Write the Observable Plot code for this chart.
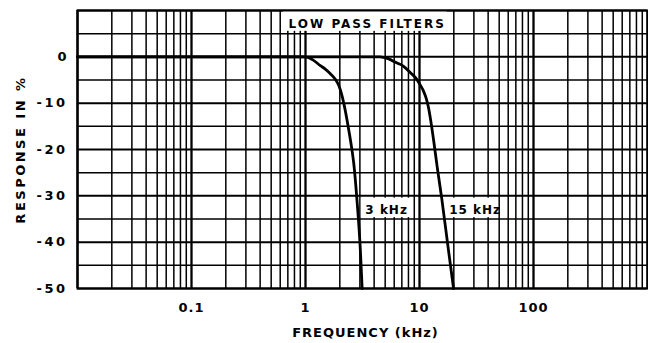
<!DOCTYPE html>
<html>
<head>
<meta charset="utf-8">
<script src="https://cdn.jsdelivr.net/npm/d3@7"></script>
<script src="https://cdn.jsdelivr.net/npm/@observablehq/plot@0.6"></script>
<style>
  html, body { margin: 0; padding: 0; background: #fff; }
  #chart svg { display: block; }
</style>
</head>
<body>
<div id="chart"></div>
<script>
// Low pass filter response curves (frequency in kHz, response in %)
const freq3k = [0.01, 0.5, 1.0, 1.15, 1.35, 1.5, 1.66, 1.82, 1.96, 2.07, 2.17, 2.4, 2.56, 2.65, 2.83, 3.03, 3.14];
const resp3k = [0, 0, 0, -0.6, -1.9, -2.7, -3.7, -4.8, -6.2, -8, -10.1, -15.9, -20.2, -23, -31, -41.8, -50];

const freq15k = [0.01, 3, 4.5, 5.3, 6.3, 7.2, 8.3, 9.3, 10, 10.8, 11.4, 12.0, 12.5, 13.3, 14.3, 15.7, 17.9, 19.9];
const resp15k = [0, 0, 0, -0.4, -1.3, -2.0, -3.4, -4.6, -5.8, -7.3, -8.8, -11, -13.5, -18, -23.8, -30.7, -41.5, -50];

const filterNames = ["3 kHz", "15 kHz"];

// Axis ticks
const xTickValues = [0.1, 1, 10, 100];
const xTickLabels = ["0.1", "1", "10", "100"];
const yTickValues = [0, -10, -20, -30, -40, -50];
const yTickLabels = ["0", "-10", "-20", "-30", "-40", "-50"];

const xDomain = [0.01, 1000];
const yDomain = [-50, 10];

const curves = [
  ...freq3k.map((f, i) => ({filter: filterNames[0], f, r: resp3k[i]})),
  ...freq15k.map((f, i) => ({filter: filterNames[1], f, r: resp15k[i]}))
];

const xLabelOf = new Map(xTickValues.map((v, i) => [v, xTickLabels[i]]));
const yLabelOf = new Map(yTickValues.map((v, i) => [v, yTickLabels[i]]));

// Log-paper grid: every 1..9 multiple in each decade, every 5 % vertically
const xGrid = d3.scaleLog().domain(xDomain).ticks(60);
const yGrid = d3.range(yDomain[0], yDomain[1] + 1, 5);
const isDecade = (v) => Math.abs(Math.log10(v) - Math.round(Math.log10(v))) < 1e-9;

const font = "DejaVu Sans, Liberation Sans, sans-serif";

// Text placement for the annotations (white boxes knock out the grid)
const notes = [
  {text: "LOW PASS FILTERS", x: 0.71, y: 7, x1: 0.64, x2: 17.5, y1: 5.5, y2: 10},
  {text: filterNames[0], x: 3.35, y: -33, x1: 3.09, x2: 8.6, y1: -30.5, y2: -34.7},
  {text: filterNames[1], x: 18.2, y: -33, x1: 17.5, x2: 48.5, y1: -30.5, y2: -34.7}
];

const chart = Plot.plot({
  width: 648,
  height: 343,
  marginLeft: 77,
  marginRight: 1,
  marginTop: 10,
  marginBottom: 55,
  style: {fontFamily: font, fontWeight: "bold", color: "black", background: "white"},
  x: {type: "log", domain: xDomain, axis: null},
  y: {domain: yDomain, axis: null},
  marks: [
    Plot.ruleX(xGrid.filter((v) => !isDecade(v)), {stroke: "black", strokeWidth: 1.5}),
    Plot.ruleX(xGrid.filter(isDecade), {stroke: "black", strokeWidth: 2.3}),
    Plot.ruleY(yGrid.filter((v) => v % 10 !== 0), {stroke: "black", strokeWidth: 1.5}),
    Plot.ruleY(yGrid.filter((v) => v % 10 === 0), {stroke: "black", strokeWidth: 2}),
    Plot.rect(notes, {x1: "x1", x2: "x2", y1: "y1", y2: "y2", fill: "white"}),
    Plot.line(curves, {x: "f", y: "r", z: "filter", curve: "monotone-x", stroke: "black", strokeWidth: 2.8}),
    Plot.text(notes, {
      x: "x", y: "y", text: "text", textAnchor: "start", lineAnchor: "middle",
      fontSize: 12, fontWeight: "bold", fill: "black"
    }),
    Plot.frame({stroke: "black", strokeWidth: 2}),
    Plot.text(xTickValues, {
      x: (d) => d, frameAnchor: "bottom", dy: 19, text: (d) => xLabelOf.get(d),
      lineAnchor: "middle", fontSize: 13, fontWeight: "bold"
    }),
    Plot.text(yTickValues, {
      y: (d) => d, frameAnchor: "left", dx: -10, text: (d) => yLabelOf.get(d),
      textAnchor: "end", lineAnchor: "middle", fontSize: 13, fontWeight: "bold"
    }),
    Plot.text(["FREQUENCY (kHz)"], {frameAnchor: "bottom", dy: 44, dx: 3, textAnchor: "middle", lineAnchor: "middle", fontSize: 13, fontWeight: "bold"}),
    Plot.text(["RESPONSE IN %"], {frameAnchor: "left", dx: -57, rotate: -90, textAnchor: "middle", lineAnchor: "middle", fontSize: 13, fontWeight: "bold"})
  ]
});

// Wide, typewriter-like letter spacing on all lettering
const svg = d3.select(chart);
svg.selectAll("text").style("letter-spacing", "1px");
svg.selectAll("text").filter(function () { return this.textContent === "LOW PASS FILTERS"; })
  .style("letter-spacing", "2px");
svg.selectAll("text").filter(function () { return this.textContent === "RESPONSE IN %"; })
  .style("letter-spacing", "2.5px");
svg.selectAll("text").filter(function () { return /^-\d/.test(this.textContent); })
  .style("letter-spacing", "2.5px");

document.getElementById("chart").appendChild(chart);
</script>
</body>
</html>
